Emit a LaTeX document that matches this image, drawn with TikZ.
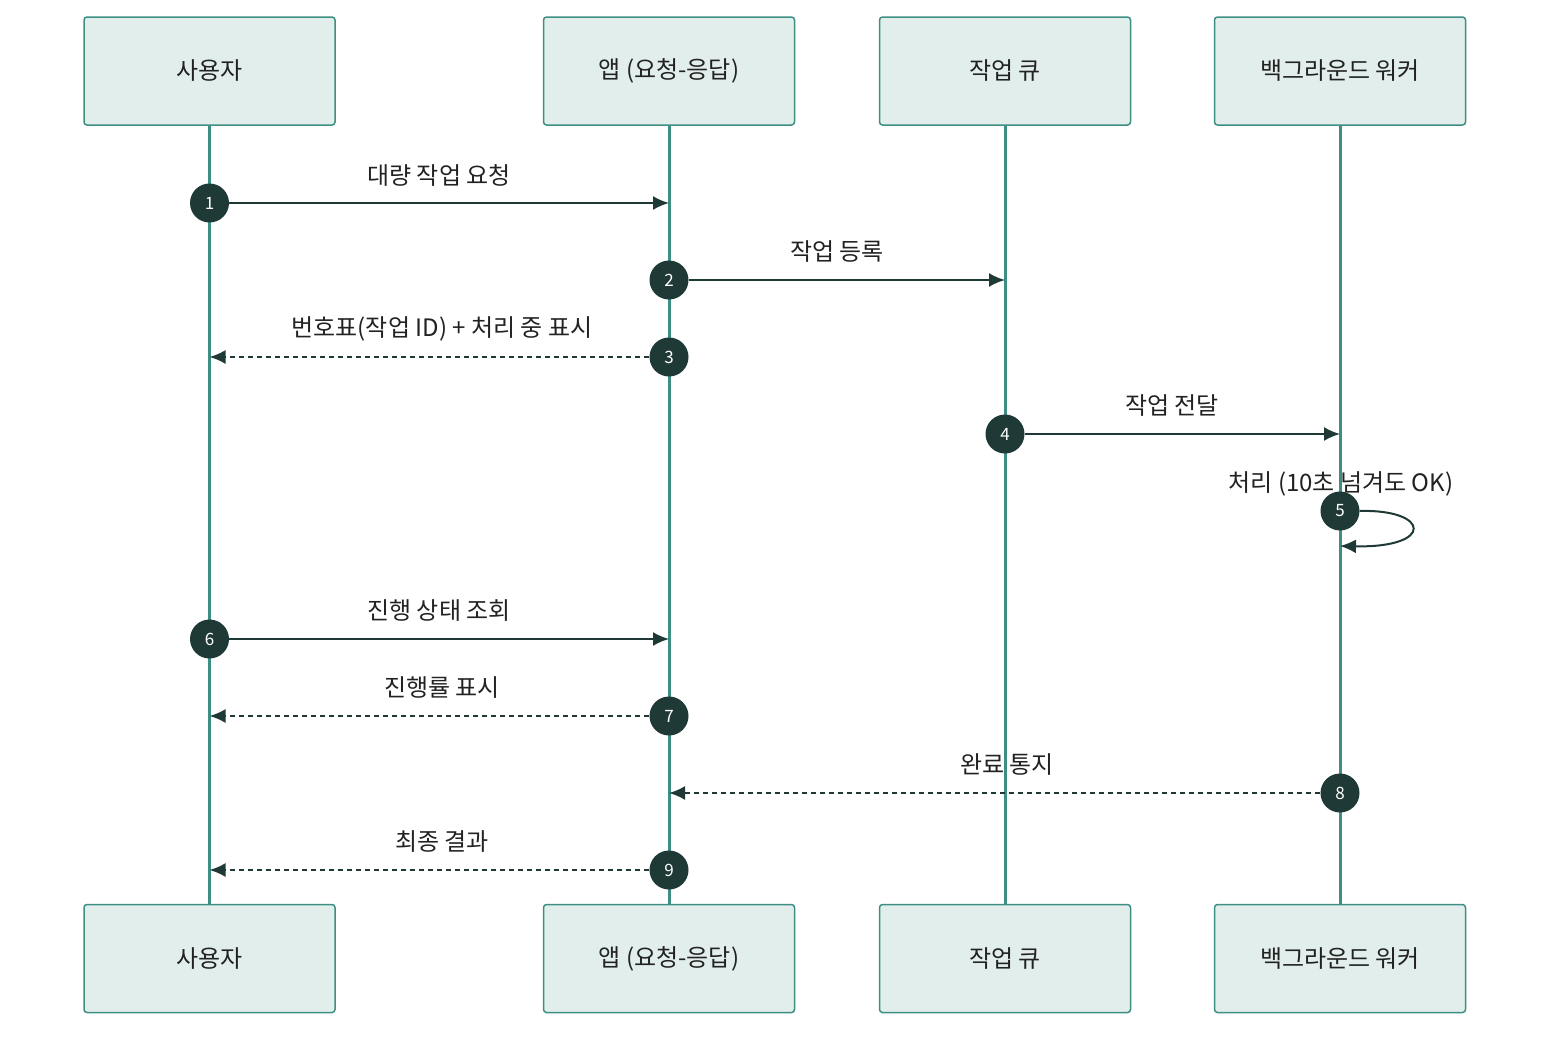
\documentclass[tikz,border=0pt]{standalone}
\usepackage{fontspec}
\newfontfamily\kr{Noto Sans CJK KR}
\usetikzlibrary{arrows.meta}
\definecolor{teal}{HTML}{3D8F84}
\definecolor{boxfill}{HTML}{E1EEEB}
\definecolor{dark}{HTML}{1F3A36}
\definecolor{txt}{HTML}{222222}
\begin{document}
\begin{tikzpicture}[x=1pt,y=-1pt,
  actor/.style={draw=teal,fill=boxfill,line width=1.5pt,rounded corners=3pt,minimum width=251pt,minimum height=108pt,font=\kr\fontsize{24}{28}\selectfont,text=txt},
  life/.style={draw=teal,line width=3pt},
  num/.style={circle,fill=dark,minimum size=39pt,inner sep=0pt,text=white,font=\kr\fontsize{17}{20}\selectfont},
  msg/.style={draw=dark,line width=2pt,-{Latex[length=16pt,width=14pt]}},
  rep/.style={msg,dash pattern=on 5pt off 4pt},
  lbl/.style={font=\kr\fontsize{24}{28}\selectfont,text=txt}]
\useasboundingbox (0,0) rectangle (1568,1044);
\foreach \n/\x/\t in {u/209.5/사용자,a/669/앱 (요청-응답),q/1005/작업 큐,w/1340/백그라운드 워커}{
  \node[actor] (\n t) at (\x,71) {\t};
  \node[actor] (\n b) at (\x,958.5) {\t};
  \draw[life] (\n t.south) -- (\n b.north);
}
\node[num] (n1) at (209.5,203) {1};
\coordinate (e1) at (669,203);
\draw[msg] (n1) -- (e1);
\node[lbl] at (439,175) {대량 작업 요청};
\node[num] (n2) at (669,280) {2};
\coordinate (e2) at (1005,280);
\draw[msg] (n2) -- (e2);
\node[lbl] at (837,252) {작업 등록};
\node[num] (n3) at (669,357) {3};
\coordinate (e3) at (209.5,357);
\draw[rep] (n3) -- (e3);
\node[lbl] at (442,329) {번호표(작업 ID) + 처리 중 표시};
\node[num] (n4) at (1005,434) {4};
\coordinate (e4) at (1340,434);
\draw[msg] (n4) -- (e4);
\node[lbl] at (1172,406) {작업 전달};
\node[num] (n5) at (1340,511) {5};
\coordinate (e5) at (1340,546);
\draw[msg] (n5.east) .. controls (1430,509) and (1435,548) .. (e5);
\node[lbl] at (1341,484) {처리 (10초 넘겨도 OK)};
\node[num] (n6) at (209.5,639) {6};
\coordinate (e6) at (669,639);
\draw[msg] (n6) -- (e6);
\node[lbl] at (439,611) {진행 상태 조회};
\node[num] (n7) at (669,716) {7};
\coordinate (e7) at (209.5,716);
\draw[rep] (n7) -- (e7);
\node[lbl] at (442,688) {진행률 표시};
\node[num] (n8) at (1340,793) {8};
\coordinate (e8) at (669,793);
\draw[rep] (n8) -- (e8);
\node[lbl] at (1007,765) {완료 통지};
\node[num] (n9) at (669,870) {9};
\coordinate (e9) at (209.5,870);
\draw[rep] (n9) -- (e9);
\node[lbl] at (442,842) {최종 결과};
\end{tikzpicture}
\end{document}
